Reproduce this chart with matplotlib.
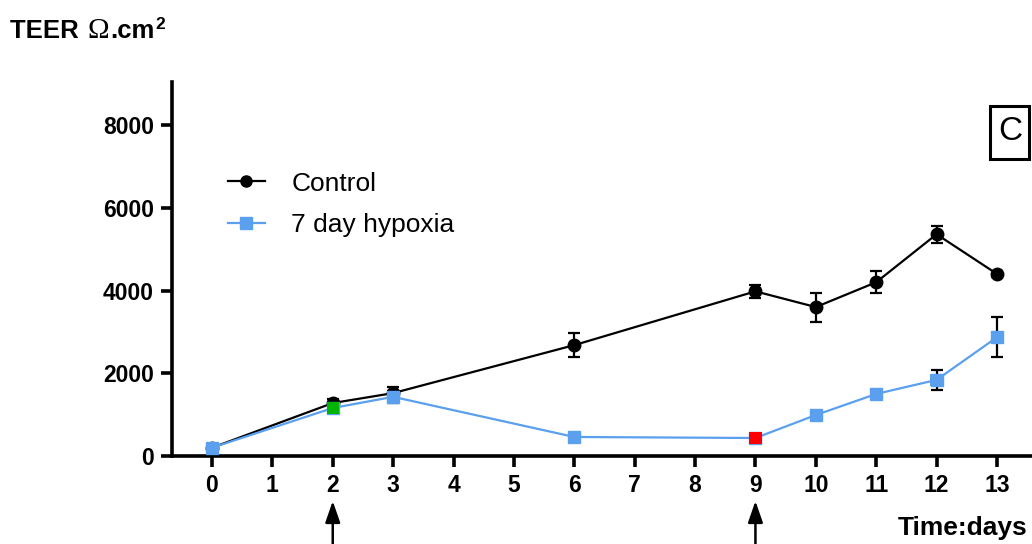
import matplotlib
matplotlib.use("Agg")
import matplotlib.pyplot as plt
from matplotlib.lines import Line2D
from matplotlib.transforms import offset_copy
import numpy as np

plt.rcParams['font.family'] = ['Liberation Sans', 'DejaVu Sans']

days = [0, 2, 3, 6, 9, 10, 11, 12, 13]
control = [200, 1280, 1520, 2680, 3980, 3600, 4200, 5360, 4400]
control_err = [60, 100, 150, 290, 160, 350, 270, 200, 80]
hypoxia = [200, 1160, 1430, 460, 435, 990, 1500, 1840, 2870]
hypoxia_err = [40, 80, 150, 50, 50, 60, 60, 250, 480]
hypoxia_colors = ['#5aa0ee', '#00b400', '#5aa0ee', '#5aa0ee', '#ff0000',
                  '#5aa0ee', '#5aa0ee', '#5aa0ee', '#5aa0ee']
xticks = list(range(0, 14))
yticks = [0, 2000, 4000, 6000, 8000]
arrow_days = [2, 9]

BLUE = '#5aa0ee'

fig = plt.figure(figsize=(10.32, 5.44), dpi=100)
ax = fig.add_axes([172/1032, 1-456/544, (1032-172)/1032, (456-82)/544])

ax.errorbar(days, control, yerr=control_err, color='black', lw=1.6,
            marker='o', ms=9, mfc='black', mec='black', capsize=4.5,
            elinewidth=1.6, capthick=1.6, zorder=3)
ax.errorbar(days, hypoxia, yerr=hypoxia_err, color=BLUE, ecolor='black', lw=1.6,
            marker='s', ms=9, mfc=BLUE, mec=BLUE, capsize=4.5,
            elinewidth=1.6, capthick=1.6, zorder=4)
ax.scatter(days, hypoxia, c=hypoxia_colors, marker='s', s=80, zorder=5,
           linewidths=0)

ax.set_xlim(-0.662, 13.58)
ax.set_ylim(0, 9040)
ax.set_xticks(xticks)
ax.set_yticks(yticks)
ax.set_xticklabels([str(t) for t in xticks], fontweight='bold', fontsize=16.5)
ax.set_yticklabels([str(t) for t in yticks], fontweight='bold', fontsize=16.5)
for s in ['top', 'right']:
    ax.spines[s].set_visible(False)
for s in ['left', 'bottom']:
    ax.spines[s].set_linewidth(2.6)
ax.tick_params(axis='both', width=2.6, length=8, direction='out', pad=5)

handles = [
    Line2D([], [], color='black', lw=1.6, marker='o', ms=8, mfc='black', mec='black'),
    Line2D([], [], color=BLUE, lw=1.6, marker='s', ms=8, mfc=BLUE, mec=BLUE),
]
fig.legend(handles, ['Control', '7 day hypoxia'], loc='center left',
           bbox_to_anchor=(228/1032, 1-204.5/544), frameon=False,
           fontsize=19, handlelength=1.4, labelspacing=0.68, handletextpad=1.0,
           borderpad=0, borderaxespad=0)

# Y-axis title built from pieces: "TEER " + serif Omega + ".cm" + superscript 2
renderer = fig.canvas.get_renderer()
pieces = [
    ('TEER ', dict(fontsize=18.5, fontweight='bold'), 0, 2),
    ('\u03a9', dict(fontsize=21, family='Liberation Serif'), 0, 1),
    ('.cm', dict(fontsize=18.5, fontweight='bold'), 0, 0),
    ('2', dict(fontsize=12.5, fontweight='bold'), 9, 0),
]
x0 = 10
base_y = 1 - 38/544
for txt, kw, dy, gap in pieces:
    t = fig.text(x0/1032, base_y, txt, va='baseline', ha='left',
                 transform=offset_copy(fig.transFigure, fig=fig, x=0, y=dy, units='dots'),
                 **kw)
    bb = t.get_window_extent(renderer)
    x0 = x0 + bb.width + gap

fig.text(1028/1032, 1-528/544, 'Time:days', fontsize=19, fontweight='bold',
         va='center', ha='right')
fig.text(1010/1032, 1-132/544, 'C', fontsize=24, va='center', ha='center')
fig.patches.append(plt.Rectangle((990/1032, 1-159/544), 39/1032, 53/544,
                                 transform=fig.transFigure, fill=False,
                                 ec='black', lw=2.2))

for d in arrow_days:
    ax.annotate('', xy=(d, 1-501/544), xytext=(d, 0),
                xycoords=('data', 'figure fraction'),
                textcoords=('data', 'figure fraction'),
                arrowprops=dict(arrowstyle='-|>,head_length=1.3,head_width=0.45',
                                color='black', lw=1.8, shrinkA=0, shrinkB=0),
                annotation_clip=False)

fig.savefig('out.png', dpi=100)
